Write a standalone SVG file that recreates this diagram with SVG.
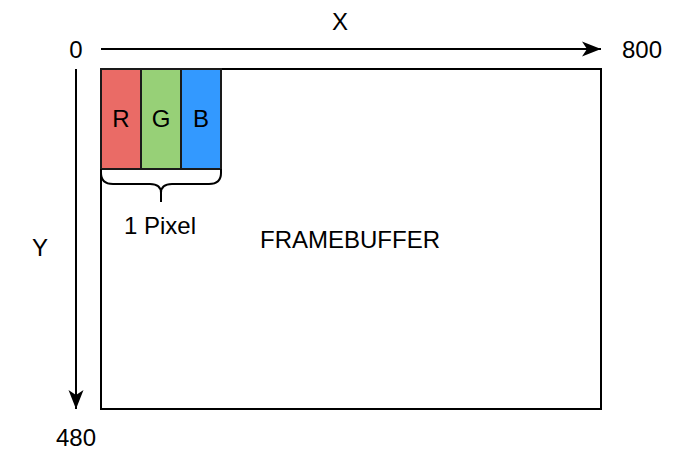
<svg xmlns="http://www.w3.org/2000/svg" width="684" height="458" viewBox="0 0 684 458">
<style>
text{font-family:"Liberation Sans",Arial,sans-serif;font-size:24px;fill:#000;text-anchor:middle;dominant-baseline:central}
.ln{stroke:#000;stroke-width:2;fill:none}
.cell{stroke:#1a1a1a;stroke-width:2}
</style>
<defs>
<marker id="ah" viewBox="0 0 20 16" refX="19" refY="8" markerWidth="20" markerHeight="16" markerUnits="userSpaceOnUse" orient="auto">
<path d="M0,0.5 L19,8 L0,15.5 L5,8 Z" fill="#000"/>
</marker>
</defs>
<g id="connectors">
<line class="ln" x1="101" y1="49" x2="601" y2="49" marker-end="url(#ah)"/>
<line class="ln" x1="76" y1="69" x2="76" y2="409" marker-end="url(#ah)"/>
</g>
<g id="framebuffer">
<rect x="101" y="69" width="500" height="340" fill="#fff" stroke="#000" stroke-width="2"/>
<text x="350" y="239">FRAMEBUFFER</text>
</g>
<g id="r">
<rect class="cell" x="101" y="69" width="40" height="100" fill="#EA6B66"/>
<text x="121" y="118">R</text>
</g>
<g id="g">
<rect class="cell" x="141" y="69" width="40" height="100" fill="#97D077"/>
<text x="161" y="118">G</text>
</g>
<g id="b">
<rect class="cell" x="181" y="69" width="40" height="100" fill="#3399FF"/>
<text x="201" y="118">B</text>
</g>
<g id="brace">
<path class="ln" d="M101,169 L101,173 Q101,184 113,184 L150,184 Q161,184 161,193 L161,202 M161,193 Q161,184 172,184 L209,184 Q221,184 221,173 L221,169"/>
<text x="160" y="225">1 Pixel</text>
</g>
<g id="labels">
<text x="340" y="21">X</text>
<text x="76" y="49">0</text>
<text x="642" y="49">800</text>
<text x="40" y="247">Y</text>
<text x="76" y="437">480</text>
</g>
</svg>
